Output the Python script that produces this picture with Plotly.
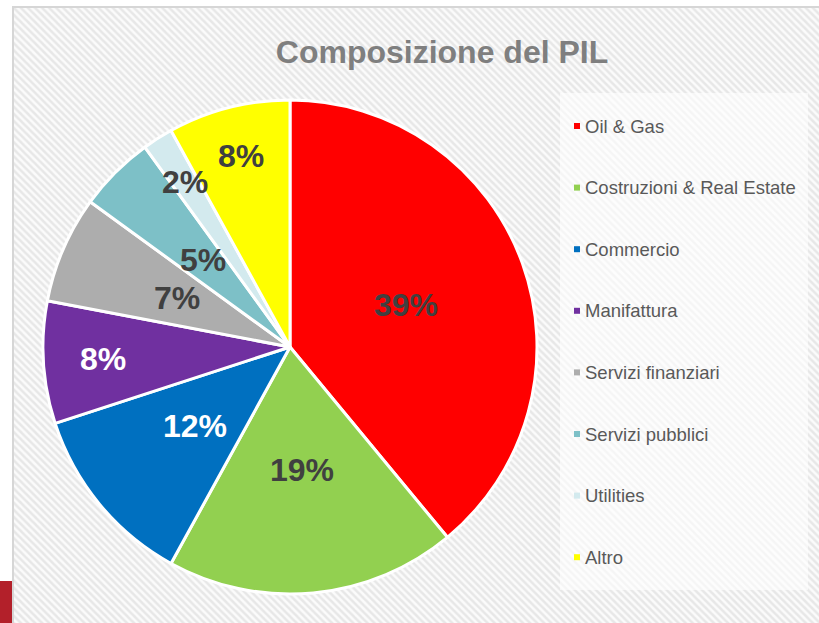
import math
import plotly.graph_objects as go

# ---- data ----
categories = ["Oil & Gas", "Costruzioni & Real Estate", "Commercio", "Manifattura",
              "Servizi finanziari", "Servizi pubblici", "Utilities", "Altro"]
shares = [39, 19, 12, 8, 7, 5, 2, 8]
slice_colors = ["#ff0000", "#92d050", "#0070c0", "#7030a0",
                "#adadad", "#7dc0c7", "#d3eaee", "#ffff00"]
label_colors = ["#404040", "#404040", "#ffffff", "#ffffff",
                "#404040", "#404040", "#404040", "#404040"]
label_radius = [0.5, 0.5, 0.5, 0.76, 0.5, 0.5, 0.79, 0.8]

W, H = 819, 623
CX, CY, R = 290, 347, 247  # pie centre / radius in pixels
FONT = "Liberation Sans, Arial, sans-serif"

fig = go.Figure()

# hatched background panel
fig.add_trace(go.Bar(
    x=[0.5], y=[1], width=[1], xaxis="x", yaxis="y",
    marker=dict(color="#f7f7f7", line=dict(width=0),
                pattern=dict(shape="\\", size=5, solidity=0.5,
                             fgcolor="#d4d4d4", bgcolor="#fbfbfb")),
    hoverinfo="skip", showlegend=False))

fig.add_trace(go.Pie(
    labels=categories,
    values=shares,
    sort=False, direction="clockwise", rotation=0,
    marker=dict(colors=slice_colors, line=dict(color="#ffffff", width=3)),
    textinfo="none", hoverinfo="label+percent", showlegend=False,
    domain=dict(x=[(CX - R) / W, (CX + R) / W],
                y=[1 - (CY + R) / H, 1 - (CY - R) / H]),
))

annotations = []
shapes = [
    # legend panel
    dict(type="rect", xref="paper", yref="paper",
         x0=560 / W, x1=808 / W, y0=1 - 590 / H, y1=1 - 93 / H,
         fillcolor="rgba(255,255,255,0.6)", line=dict(width=0), layer="above"),
    # frame
    dict(type="rect", xref="paper", yref="paper",
         x0=13 / W, x1=1.02, y0=-0.02, y1=1 - 7 / H,
         fillcolor="rgba(0,0,0,0)", line=dict(color="#d6d6d6", width=2)),
    # slide decoration bottom-left
    dict(type="rect", xref="paper", yref="paper",
         x0=0, x1=12 / W, y0=0, y1=1 - 581 / H,
         fillcolor="#b3202a", line=dict(width=0)),
]

# percentage labels
total = sum(shares)
cum = 0
for v, col, rf in zip(shares, label_colors, label_radius):
    mid = (cum + v / 2) / total * 2 * math.pi
    cum += v
    px = CX + R * rf * math.sin(mid)
    py = CY - R * rf * math.cos(mid)
    annotations.append(dict(
        x=px / W, y=1 - py / H, xref="paper", yref="paper",
        text=f"<b>{round(v / total * 100)}%</b>", showarrow=False,
        font=dict(family=FONT, size=32, color=col),
        xanchor="center", yanchor="middle"))

# legend (drawn manually to match spacing)
LEG_X, LEG_Y0, LEG_DY, SQ = 577, 126, 61.6, 6
for i, (c, col) in enumerate(zip(categories, slice_colors)):
    yy = LEG_Y0 + i * LEG_DY
    shapes.append(dict(type="rect", xref="paper", yref="paper",
                       x0=(LEG_X - SQ / 2) / W, x1=(LEG_X + SQ / 2) / W,
                       y0=1 - (yy + SQ / 2) / H, y1=1 - (yy - SQ / 2) / H,
                       fillcolor=col, line=dict(width=0), layer="above"))
    annotations.append(dict(
        x=583 / W, y=1 - yy / H, xref="paper", yref="paper",
        text=c, showarrow=False, xanchor="left", yanchor="middle",
        font=dict(family=FONT, size=18.5, color="#595959")))

fig.update_layout(
    width=W, height=H,
    margin=dict(l=0, r=0, t=0, b=0),
    paper_bgcolor="#ffffff", plot_bgcolor="rgba(0,0,0,0)",
    xaxis=dict(domain=[13 / W, 1], range=[0, 1], visible=False, fixedrange=True),
    yaxis=dict(domain=[0, 1 - 7 / H], range=[0, 1], visible=False, fixedrange=True),
    bargap=0,
    showlegend=False,
    title=dict(text="<b>Composizione del PIL</b>", x=442 / W, xanchor="center",
               y=1 - 52 / H, yanchor="middle",
               font=dict(family=FONT, size=32, color="#7f7f7f")),
    annotations=annotations,
    shapes=shapes,
)

fig.write_html("out.html", config={"displayModeBar": False},
               post_script="document.body.style.margin='0';document.body.style.overflow='hidden';")
